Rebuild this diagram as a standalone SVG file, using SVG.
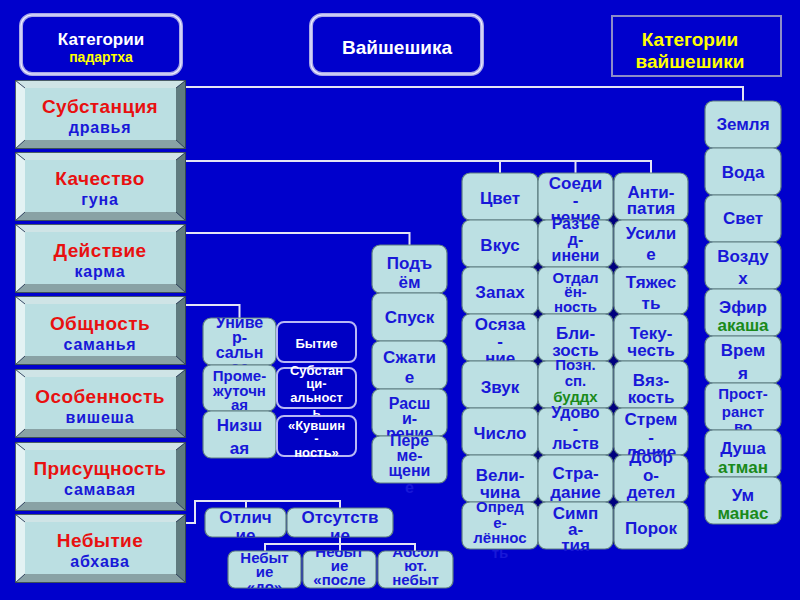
<svg xmlns="http://www.w3.org/2000/svg" width="800" height="600" viewBox="0 0 800 600">
<style>
.box{fill:#BCE0E3;stroke:#5E7E82;stroke-width:1.2}
.t{font-family:"Liberation Sans",Arial,sans-serif;font-weight:bold;font-size:17px;fill:#1818D8;text-anchor:middle}
.s15{font-size:15px}
.s16{font-size:16px}
.g{fill:#1A8A1A}
.dk{fill:#0000C4;stroke:#B8B8F4;stroke-width:2}
.wt{fill:#FFFFFF;font-size:13px}
.cn{fill:none;stroke:#E4E4F4;stroke-width:2}
.ti{fill:#E81010;font-size:19px;letter-spacing:0.4px}
.su{font-size:16px;letter-spacing:0.8px}
.hd{fill:#0000CC;stroke:#A8A8E8;stroke-width:4}
.hd2{fill:none;stroke:#ECECFF;stroke-width:1.2}
.yl{fill:#FFFF00}
</style>
<defs>
<symbol id="btn" viewBox="0 0 171 69" width="171" height="69">
<polygon points="0,0 171,0 161,8 10,8" fill="#CFE4E6"/>
<polygon points="0,0 10,8 10,60 0,69" fill="#E3F2F3"/>
<polygon points="171,0 171,69 161,60 161,8" fill="#5F7B7F"/>
<polygon points="0,69 171,69 161,60 10,60" fill="#89A2A5"/>
<rect x="10" y="8" width="151" height="52" fill="#BBDFE2"/>
<g stroke="#2A3C48" stroke-width="0.8" fill="none">
<rect x="0.5" y="0.5" width="170" height="68"/>
<path d="M0.5,0.5 L10,8 M170.5,0.5 L161,8 M0.5,68.5 L10,60 M170.5,68.5 L161,60"/>
</g>
</symbol>
<clipPath id="c1"><rect x="205" y="508" width="81" height="29"/></clipPath>
<clipPath id="c2"><rect x="287" y="508" width="106" height="29"/></clipPath>
<clipPath id="c3"><rect x="228" y="551" width="73" height="37"/></clipPath>
<clipPath id="c4"><rect x="303" y="551" width="73" height="37"/></clipPath>
<clipPath id="c5"><rect x="378" y="551" width="75" height="37"/></clipPath>
<clipPath id="c6"><rect x="203" y="318" width="73" height="48"/></clipPath>
</defs>
<rect width="800" height="600" fill="#0000CC"/>

<!-- headers -->
<g id="hdr-padartha">
<rect class="hd" x="21" y="15" width="160" height="59" rx="11"/>
<rect class="hd2" x="21" y="15" width="160" height="59" rx="11"/>
<text class="t" x="101" y="45" fill="#fff" style="fill:#fff">Категории</text>
<text class="t s15 yl" x="101" y="62" style="font-size:14px">падартха</text>
</g>
<g id="hdr-vaisheshika">
<rect class="hd" x="311" y="15" width="171" height="59" rx="11"/>
<rect class="hd2" x="311" y="15" width="171" height="59" rx="11"/>
<text class="t" x="397" y="54" style="fill:#fff;font-size:19px">Вайшешика</text>
</g>
<g id="hdr-cat">
<rect x="612" y="16" width="169" height="60" fill="none" stroke="#8C8CC8" stroke-width="2"/>
<text class="t yl" x="690" y="46" style="font-size:19px">Категории</text>
<text class="t yl" x="690" y="68" style="font-size:19px">вайшешики</text>
</g>

<!-- connectors -->
<g id="connectors">
<path class="cn" d="M186,87 H743 V101"/>
<path class="cn" d="M186,161 H651 V173 M500,161 V173 M575.5,161 V173"/>
<path class="cn" d="M186,233 H409.5 V245"/>
<path class="cn" d="M186,305 H239.5 V318"/>
<path class="cn" d="M186,523 H195 V501 H340 V508 M246,501 V508"/>
<path class="cn" d="M340,537 V551 M265,551 V544 H415 V551"/>
</g>

<!-- left buttons -->
<g id="n-substance"><use href="#btn" x="15" y="80"/><text class="t ti" x="100" y="113">Субстанция</text><text class="t su" x="100" y="133">дравья</text></g>
<g id="n-quality"><use href="#btn" x="15" y="152"/><text class="t ti" x="100" y="185">Качество</text><text class="t su" x="100" y="205">гуна</text></g>
<g id="n-action"><use href="#btn" x="15" y="224"/><text class="t ti" x="100" y="257">Действие</text><text class="t su" x="100" y="277">карма</text></g>
<g id="n-generality"><use href="#btn" x="15" y="296"/><text class="t ti" x="100" y="330">Общность</text><text class="t su" x="100" y="350">саманья</text></g>
<g id="n-particularity"><use href="#btn" x="15" y="369"/><text class="t ti" x="100" y="403">Особенность</text><text class="t su" x="100" y="423">вишеша</text></g>
<g id="n-inherence"><use href="#btn" x="15" y="442"/><text class="t ti" x="100" y="475">Присущность</text><text class="t su" x="100" y="495">самавая</text></g>
<g id="n-nonbeing"><use href="#btn" x="15" y="514"/><text class="t ti" x="100" y="547">Небытие</text><text class="t su" x="100" y="567">абхава</text></g>

<!-- grid backing -->
<rect x="467" y="178" width="216" height="366" fill="#00007E"/>

<!-- grid col1 -->
<g id="q-color"><rect class="box" x="462" y="173" width="76" height="47" rx="8"/><text class="t" x="500" y="204">Цвет</text></g>
<g id="q-taste"><rect class="box" x="462" y="220" width="76" height="47" rx="8"/><text class="t" x="500" y="251">Вкус</text></g>
<g id="q-smell"><rect class="box" x="462" y="267" width="76" height="47" rx="8"/><text class="t" x="500" y="298">Запах</text></g>
<g id="q-touch"><rect class="box" x="462" y="314" width="76" height="47" rx="8"/><text class="t" x="500"><tspan x="500" y="330">Осяза</tspan><tspan x="500" y="347">-</tspan><tspan x="500" y="364">ние</tspan></text></g>
<g id="q-sound"><rect class="box" x="462" y="361" width="76" height="47" rx="8"/><text class="t" x="500" y="393">Звук</text></g>
<g id="q-number"><rect class="box" x="462" y="408" width="76" height="47" rx="8"/><text class="t" x="500" y="439">Число</text></g>
<g id="q-size"><rect class="box" x="462" y="455" width="76" height="47" rx="8"/><text class="t" x="500"><tspan x="500" y="481">Вели-</tspan><tspan x="500" y="498">чина</tspan></text></g>
<g id="q-definite"><rect class="box" x="462" y="502" width="76" height="47" rx="8"/><text class="t s15" x="500"><tspan x="500" y="512">Опред</tspan><tspan x="500" y="528">е-</tspan><tspan x="500" y="543">лённос</tspan><tspan x="500" y="558">ть</tspan></text></g>

<!-- grid col2 -->
<g id="q-conj"><rect class="box" x="538" y="173" width="75" height="47" rx="8"/><text class="t" x="575.5"><tspan x="575.5" y="189">Соеди</tspan><tspan x="575.5" y="206">-</tspan><tspan x="575.5" y="223">нение</tspan></text></g>
<g id="q-disj"><rect class="box" x="538" y="220" width="75" height="47" rx="8"/><text class="t s16" x="575.5"><tspan x="575.5" y="229">Разъе</tspan><tspan x="575.5" y="245">д-</tspan><tspan x="575.5" y="261">инени</tspan><tspan x="575.5" y="277">е</tspan></text></g>
<g id="q-far"><rect class="box" x="538" y="267" width="75" height="47" rx="8"/><text class="t s15" x="575.5"><tspan x="575.5" y="283">Отдал</tspan><tspan x="575.5" y="297">ён-</tspan><tspan x="575.5" y="312">ность</tspan></text></g>
<g id="q-near"><rect class="box" x="538" y="314" width="75" height="47" rx="8"/><text class="t" x="575.5"><tspan x="575.5" y="339">Бли-</tspan><tspan x="575.5" y="356">зость</tspan></text></g>
<g id="q-buddhi"><rect class="box" x="538" y="361" width="75" height="47" rx="8"/><text class="t s15" x="575.5"><tspan x="575.5" y="370">Позн.</tspan><tspan x="575.5" y="386">сп.</tspan><tspan class="g" x="575.5" y="402">буддх</tspan></text></g>
<g id="q-pleasure"><rect class="box" x="538" y="408" width="75" height="47" rx="8"/><text class="t s16" x="575.5"><tspan x="575.5" y="418">Удово</tspan><tspan x="575.5" y="434">-</tspan><tspan x="575.5" y="449">льств</tspan><tspan x="575.5" y="465">ие</tspan></text></g>
<g id="q-pain"><rect class="box" x="538" y="455" width="75" height="47" rx="8"/><text class="t" x="575.5"><tspan x="575.5" y="479">Стра-</tspan><tspan x="575.5" y="498">дание</tspan></text></g>
<g id="q-sympathy"><rect class="box" x="538" y="502" width="75" height="47" rx="8"/><text class="t" x="575.5"><tspan x="575.5" y="519">Симп</tspan><tspan x="575.5" y="535">а-</tspan><tspan x="575.5" y="551">тия</tspan></text></g>

<!-- grid col3 -->
<g id="q-antipathy"><rect class="box" x="614" y="173" width="74" height="47" rx="8"/><text class="t" x="651"><tspan x="651" y="198">Анти-</tspan><tspan x="651" y="214">патия</tspan></text></g>
<g id="q-effort"><rect class="box" x="614" y="220" width="74" height="47" rx="8"/><text class="t" x="651"><tspan x="651" y="239">Усили</tspan><tspan x="651" y="260">е</tspan></text></g>
<g id="q-weight"><rect class="box" x="614" y="267" width="74" height="47" rx="8"/><text class="t" x="651"><tspan x="651" y="288">Тяжес</tspan><tspan x="651" y="309">ть</tspan></text></g>
<g id="q-fluidity"><rect class="box" x="614" y="314" width="74" height="47" rx="8"/><text class="t" x="651"><tspan x="651" y="339">Теку-</tspan><tspan x="651" y="356">честь</tspan></text></g>
<g id="q-viscosity"><rect class="box" x="614" y="361" width="74" height="47" rx="8"/><text class="t" x="651"><tspan x="651" y="386">Вяз-</tspan><tspan x="651" y="403">кость</tspan></text></g>
<g id="q-striving"><rect class="box" x="614" y="408" width="74" height="47" rx="8"/><text class="t" x="651"><tspan x="651" y="425">Стрем</tspan><tspan x="651" y="443">-</tspan><tspan x="651" y="458">ление</tspan></text></g>
<g id="q-virtue"><rect class="box" x="614" y="455" width="74" height="47" rx="8"/><text class="t" x="651"><tspan x="651" y="463">Добр</tspan><tspan x="651" y="481">о-</tspan><tspan x="651" y="498">детел</tspan><tspan x="651" y="515">ь</tspan></text></g>
<g id="q-vice"><rect class="box" x="614" y="502" width="74" height="47" rx="8"/><text class="t" x="651" y="534">Порок</text></g>

<!-- substances -->
<g id="s-earth"><rect class="box" x="705" y="101" width="76" height="47" rx="8"/><text class="t" x="743" y="130">Земля</text></g>
<g id="s-water"><rect class="box" x="705" y="148" width="76" height="47" rx="8"/><text class="t" x="743" y="178">Вода</text></g>
<g id="s-light"><rect class="box" x="705" y="195" width="76" height="47" rx="8"/><text class="t" x="743" y="224">Свет</text></g>
<g id="s-air"><rect class="box" x="705" y="242" width="76" height="47" rx="8"/><text class="t" x="743"><tspan x="743" y="262">Возду</tspan><tspan x="743" y="284">х</tspan></text></g>
<g id="s-ether"><rect class="box" x="705" y="289" width="76" height="47" rx="8"/><text class="t" x="743"><tspan x="743" y="313">Эфир</tspan><tspan class="g" x="743" y="331">акаша</tspan></text></g>
<g id="s-time"><rect class="box" x="705" y="336" width="76" height="47" rx="8"/><text class="t" x="743"><tspan x="743" y="356">Врем</tspan><tspan x="743" y="379">я</tspan></text></g>
<g id="s-space"><rect class="box" x="705" y="383" width="76" height="47" rx="8"/><text class="t s15" x="743"><tspan x="743" y="399">Прост-</tspan><tspan x="743" y="417">ранст</tspan><tspan x="743" y="432">во</tspan></text></g>
<g id="s-soul"><rect class="box" x="705" y="430" width="76" height="47" rx="8"/><text class="t" x="743"><tspan x="743" y="454">Душа</tspan><tspan class="g" x="743" y="473">атман</tspan></text></g>
<g id="s-mind"><rect class="box" x="705" y="477" width="76" height="47" rx="8"/><text class="t" x="743"><tspan x="743" y="501">Ум</tspan><tspan class="g" x="743" y="519">манас</tspan></text></g>

<!-- actions -->
<g id="a-up"><rect class="box" x="372" y="245" width="75" height="48" rx="8"/><text class="t" x="409.5"><tspan x="409.5" y="269">Подъ</tspan><tspan x="409.5" y="288">ём</tspan></text></g>
<g id="a-down"><rect class="box" x="372" y="293" width="75" height="48" rx="8"/><text class="t" x="409.5" y="323">Спуск</text></g>
<g id="a-contract"><rect class="box" x="372" y="341" width="75" height="48" rx="8"/><text class="t" x="409.5"><tspan x="409.5" y="363">Сжати</tspan><tspan x="409.5" y="383">е</tspan></text></g>
<g id="a-expand"><rect class="box" x="372" y="389" width="75" height="47" rx="8"/><text class="t s16" x="409.5"><tspan x="409.5" y="409">Расш</tspan><tspan x="409.5" y="424">и-</tspan><tspan x="409.5" y="439">рение</tspan></text></g>
<g id="a-move"><rect class="box" x="372" y="436" width="75" height="47" rx="8"/><text class="t s16" x="409.5"><tspan x="409.5" y="446">Пере</tspan><tspan x="409.5" y="461">ме-</tspan><tspan x="409.5" y="476">щени</tspan><tspan x="409.5" y="493">е</tspan></text></g>

<!-- generality -->
<g id="g-universal"><rect class="box" x="203" y="318" width="73" height="47" rx="8"/><text class="t s16" x="239.5" clip-path="url(#c6)"><tspan x="239.5" y="328">Униве</tspan><tspan x="239.5" y="343">р-</tspan><tspan x="239.5" y="358">сальн</tspan><tspan x="239.5" y="373">ое</tspan></text></g>
<g id="g-intermediate"><rect class="box" x="203" y="365" width="73" height="46" rx="8"/><text class="t s15" x="239.5"><tspan x="239.5" y="381">Проме-</tspan><tspan x="239.5" y="396">жуточн</tspan><tspan x="239.5" y="410">ая</tspan></text></g>
<g id="g-lower"><rect class="box" x="203" y="411" width="73" height="47" rx="8"/><text class="t" x="239.5"><tspan x="239.5" y="431">Низш</tspan><tspan x="239.5" y="454">ая</tspan></text></g>
<g id="g-being"><rect class="dk" x="277" y="322" width="79" height="40" rx="7"/><text class="t wt" x="316.5" y="347.5">Бытие</text></g>
<g id="g-substantiality"><rect class="dk" x="277" y="368" width="79" height="40" rx="7"/><text class="t wt" x="316.5"><tspan x="316.5" y="374.5">Субстан</tspan><tspan x="316.5" y="387.5">ци-</tspan><tspan x="316.5" y="401.5">альност</tspan><tspan x="316.5" y="416.5">ь</tspan></text></g>
<g id="g-jugness"><rect class="dk" x="277" y="416" width="79" height="40" rx="7"/><text class="t wt" x="316.5"><tspan x="316.5" y="429.5">«Кувшин</tspan><tspan x="316.5" y="442.5">-</tspan><tspan x="316.5" y="456.5">ность»</tspan></text></g>

<!-- non-being -->
<g id="nb-difference"><rect class="box" x="205" y="508" width="81" height="29" rx="7"/><text class="t" x="245.5" clip-path="url(#c1)"><tspan x="245.5" y="523">Отлич</tspan><tspan x="245.5" y="541">ие</tspan></text></g>
<g id="nb-absence"><rect class="box" x="287" y="508" width="106" height="29" rx="7"/><text class="t" x="340" clip-path="url(#c2)"><tspan x="340" y="523">Отсутств</tspan><tspan x="340" y="541">ие</tspan></text></g>
<g id="nb-before"><rect class="box" x="228" y="551" width="73" height="37" rx="7"/><text class="t s15" x="264.5" clip-path="url(#c3)"><tspan x="264.5" y="563">Небыт</tspan><tspan x="264.5" y="577">ие</tspan><tspan x="264.5" y="592">«до»</tspan></text></g>
<g id="nb-after"><rect class="box" x="303" y="551" width="73" height="37" rx="7"/><text class="t s15" x="339.5" clip-path="url(#c4)"><tspan x="339.5" y="557">Небыт</tspan><tspan x="339.5" y="571">ие</tspan><tspan x="339.5" y="585">«после</tspan><tspan x="339.5" y="599">»</tspan></text></g>
<g id="nb-absolute"><rect class="box" x="378" y="551" width="75" height="37" rx="7"/><text class="t s15" x="415.5" clip-path="url(#c5)"><tspan x="415.5" y="557">Абсол</tspan><tspan x="415.5" y="571">ют.</tspan><tspan x="415.5" y="585">небыт</tspan><tspan x="415.5" y="599">ие</tspan></text></g>
</svg>
